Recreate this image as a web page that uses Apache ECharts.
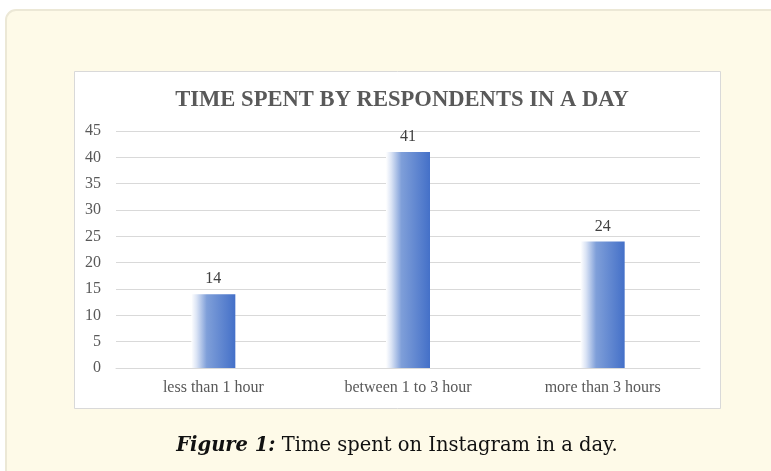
<!DOCTYPE html>
<html>
<head>
<meta charset="utf-8">
<script src="https://cdn.jsdelivr.net/npm/echarts@6/dist/echarts.min.js"></script>
<style>
  html, body { margin: 0; padding: 0; background: #ffffff; }
  #chart { width: 771px; height: 471px; }
</style>
</head>
<body>
<div id="chart"></div>
<script>
// Daily Instagram usage by respondents
const categories = ['less than 1 hour', 'between 1 to 3 hour', 'more than 3 hours'];
const respondents = [14, 41, 24];
const yTicks = [0, 5, 10, 15, 20, 25, 30, 35, 40, 45];

const chart = echarts.init(document.getElementById('chart'), null, { renderer: 'canvas' });

const serif = '"Liberation Serif", "Times New Roman", serif';
const captionFont = '"DejaVu Serif", serif';

chart.setOption({
  animation: false,
  backgroundColor: '#ffffff',
  graphic: [
    // cream card behind the figure
    {
      type: 'rect', z: -10, silent: true,
      shape: { x: 6, y: 10, width: 800, height: 500, r: 10 },
      style: { fill: '#fefae8', stroke: '#ece8d6', lineWidth: 2 }
    },
    // white chart panel
    {
      type: 'rect', z: -9, silent: true,
      shape: { x: 74.5, y: 71.5, width: 646, height: 337 },
      style: { fill: '#ffffff', stroke: '#d9d9d9', lineWidth: 1 }
    },
    // caption
    {
      type: 'text', x: 397, y: 446,
      style: {
        text: '{b|Figure 1:} Time spent on Instagram in a day.',
        align: 'center', verticalAlign: 'middle',
        font: '19.5px ' + captionFont,
        fill: '#111111',
        rich: {
          b: { font: 'bold italic 19.5px ' + captionFont, fill: '#111111' }
        }
      }
    }
  ],
  title: {
    text: 'TIME SPENT BY RESPONDENTS IN A DAY',
    left: 397, top: 84, textAlign: 'center',
    textStyle: { fontFamily: serif, fontWeight: 'bold', fontSize: 22.6, color: '#595959' }
  },
  grid: { left: 116, right: 71, top: 131, bottom: 103, containLabel: false },
  xAxis: {
    type: 'category',
    data: categories,
    axisLine: { lineStyle: { color: '#d9d9d9', width: 1 } },
    axisTick: { show: false },
    axisLabel: { fontFamily: serif, fontSize: 16, color: '#595959', margin: 12 }
  },
  yAxis: {
    type: 'value',
    min: yTicks[0], max: yTicks[yTicks.length - 1], interval: 5,
    axisLine: { show: false },
    axisTick: { show: false },
    axisLabel: { fontFamily: serif, fontSize: 16, color: '#595959', margin: 15 },
    splitLine: { lineStyle: { color: '#d9d9d9', width: 1 } }
  },
  series: [{
    type: 'bar',
    data: respondents,
    barWidth: 44,
    itemStyle: {
      color: new echarts.graphic.LinearGradient(0, 0, 1, 0, [
        { offset: 0, color: 'rgba(255,255,255,1)' },
        { offset: 0.12, color: '#dbe4f5' },
        { offset: 0.35, color: '#7f9fd9' },
        { offset: 1, color: '#4470c8' }
      ])
    },
    label: {
      show: true, position: 'top', distance: 7,
      fontFamily: serif, fontSize: 16, color: '#404040'
    }
  }]
});
</script>
</body>
</html>
